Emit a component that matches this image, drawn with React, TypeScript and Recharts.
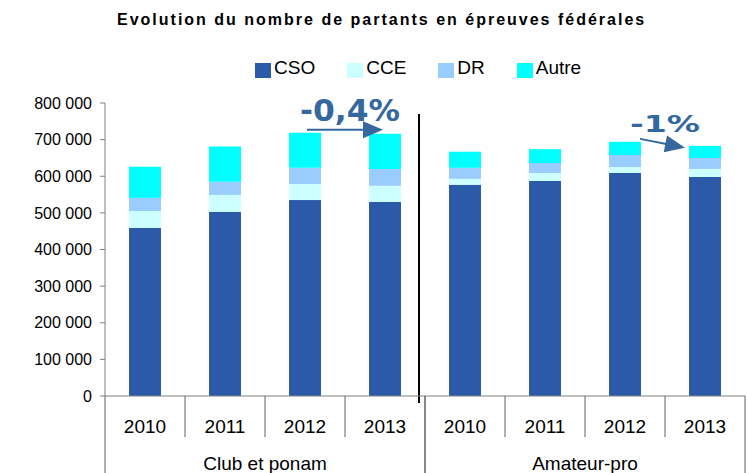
import React from "react";
import { BarChart, Bar, XAxis, YAxis, ReferenceLine } from "recharts";

// categories
const years = ["2010", "2011", "2012", "2013"];
const groups = ["Club et ponam", "Amateur-pro"];

// series values (partants), club 2010..2013 then amateur-pro 2010..2013
const cso = [459000, 503000, 535000, 530000, 577000, 587000, 609000, 598000];
const cce = [46000, 46000, 44000, 44000, 16000, 22000, 16000, 22000];
const dr = [36000, 36000, 44000, 46000, 30000, 27000, 33000, 30000];
const autre = [85000, 96000, 96000, 96000, 44000, 38000, 36000, 33000];

const yTicks = [0, 100000, 200000, 300000, 400000, 500000, 600000, 700000, 800000];

const series = [
  { key: "cso", name: "CSO", values: cso, color: "#2B5BA8" },
  { key: "cce", name: "CCE", values: cce, color: "#CCFFFF" },
  { key: "dr", name: "DR", values: dr, color: "#99CCFF" },
  { key: "autre", name: "Autre", values: autre, color: "#00FFFF" },
];

// evolution 2012 -> 2013 annotations (anchor values in data units)
const annotations = [
  { group: "Club et ponam", from: "2012", to: "2013", fromY: 727000, toY: 727000, label: "-0,4%" },
  { group: "Amateur-pro", from: "2012", to: "2013", fromY: 702000, toY: 678000, label: "-1%" },
];

const catKey = (g: string, y: string) => `${g}|${y}`;

const data = groups.flatMap((g, gi) =>
  years.map((y, yi) => {
    const i = gi * years.length + yi;
    const row: Record<string, string | number> = { cat: catKey(g, y), group: g, year: y };
    series.forEach((s) => (row[s.key] = s.values[i]));
    return row;
  })
);

const W = 747;
const H = 473;
const MARGIN = { top: 103, right: 2, left: 0, bottom: 0 };
const Y_W = 105;
const X_H = 77;
const BAND = (W - MARGIN.right - Y_W) / data.length;
const FONT = "'Liberation Sans', Arial, sans-serif";
const ANNOT = "#34689E";
const GRID = "#606060";

const fmt = (v: number) => String(v).replace(/\B(?=(\d{3})+(?!\d))/g, " ");

function CategoryTick(props: any) {
  const { x, y, payload, index } = props;
  const row = data[index];
  const yi = years.indexOf(String(row?.year ?? payload.value.split("|")[1]));
  const lastOfGroup = yi === years.length - 1;
  return (
    <g>
      {yi === 0 && (
        <line x1={x - BAND / 2} x2={x - BAND / 2} y1={y} y2={H} stroke={GRID} />
      )}
      <line
        x1={x + BAND / 2}
        x2={x + BAND / 2}
        y1={y}
        y2={lastOfGroup ? H : y + 41}
        stroke={GRID}
      />
      <text x={x} y={y + 37} textAnchor="middle" fontSize={19} fontFamily={FONT} fill="#000">
        {row.year}
      </text>
      {yi === 1 && (
        <text x={x + BAND / 2} y={y + 74} textAnchor="middle" fontSize={19} fontFamily={FONT} fill="#000">
          {row.group}
        </text>
      )}
    </g>
  );
}

const arrowLayout = [
  { startInset: 2, endInset: 2, textDx: 45, textDy: -9, textLen: 100, fontSize: 31 },
  { startInset: 15, endInset: 20, textDx: 40, textDy: -7, textLen: 70, fontSize: 23 },
];

function makeArrow(i: number, label: string) {
  const L = arrowLayout[i];
  return (p: any) => {
    const sx = p.x1 + L.startInset;
    const ex = p.x2 - L.endInset;
    const sy = p.y1;
    const ey = p.y2;
    const ang = Math.atan2(ey - sy, ex - sx);
    const head = 20;
    const half = 8.5;
    const bx = ex - head * Math.cos(ang);
    const by = ey - head * Math.sin(ang);
    const px = -Math.sin(ang) * half;
    const py = Math.cos(ang) * half;
    return (
      <g>
        <line x1={sx} y1={sy} x2={bx + Math.cos(ang)} y2={by + Math.sin(ang)} stroke={ANNOT} strokeWidth={2} />
        <polygon points={`${ex},${ey} ${bx + px},${by + py} ${bx - px},${by - py}`} fill={ANNOT} />
        <text
          x={p.x1 + L.textDx}
          y={sy + L.textDy}
          textAnchor="middle"
          fontFamily="'DejaVu Sans', Verdana, sans-serif"
          fontWeight="bold"
          fontSize={L.fontSize}
          textLength={L.textLen}
          lengthAdjust="spacingAndGlyphs"
          fill={ANNOT}
        >
          {label}
        </text>
      </g>
    );
  };
}

function Separator(p: any) {
  const x = p.x1 + BAND / 2 - 6;
  return <line x1={x} x2={x} y1={p.y1} y2={p.y2 + 7} stroke="#000" strokeWidth={2} />;
}

export default function App() {
  return (
    <div style={{ position: "absolute", left: 0, top: 0, width: W, height: H, background: "#fff", fontFamily: FONT }}>
      <div
        style={{
          position: "absolute",
          left: 117,
          top: 10,
          fontSize: 16,
          fontWeight: "bold",
          letterSpacing: 2,
          whiteSpace: "nowrap",
          lineHeight: "20px",
          color: "#000",
        }}
      >
        Evolution du nombre de partants en épreuves fédérales
      </div>
      <div
        style={{
          position: "absolute",
          left: 255,
          top: 56,
          display: "flex",
          gap: 32,
          fontSize: 19,
          lineHeight: "24px",
          whiteSpace: "nowrap",
          color: "#000",
        }}
      >
        {series.map((s) => (
          <div key={s.key} style={{ display: "flex", alignItems: "center" }}>
            <span style={{ display: "inline-block", width: 16, height: 15, background: s.color, marginRight: 3, marginTop: 4 }} />
            <span>{s.name}</span>
          </div>
        ))}
      </div>
      <BarChart width={W} height={H} data={data} margin={MARGIN} barCategoryGap="30%">
        <XAxis
          dataKey="cat"
          height={X_H}
          interval={0}
          tickLine={false}
          tickSize={0}
          tickMargin={0}
          axisLine={{ stroke: "#808080" }}
          tick={<CategoryTick />}
        />
        <YAxis
          width={Y_W}
          domain={[0, 800000]}
          ticks={yTicks}
          interval={0}
          tickSize={5}
          tickMargin={8}
          tickFormatter={fmt}
          axisLine={{ stroke: "#808080" }}
          tickLine={{ stroke: "#808080" }}
          tick={{ fill: "#000", fontSize: 16, fontFamily: FONT }}
        />
        {series.map((s) => (
          <Bar key={s.key} dataKey={s.key} name={s.name} stackId="a" fill={s.color} isAnimationActive={false} />
        ))}
        <ReferenceLine
          segment={[
            { x: catKey(groups[0], years[years.length - 1]), y: 770000 },
            { x: catKey(groups[0], years[years.length - 1]), y: 0 },
          ]}
          ifOverflow="visible"
          shape={Separator}
        />
        {annotations.map((a, i) => (
          <ReferenceLine
            key={a.label}
            segment={[
              { x: catKey(a.group, a.from), y: a.fromY },
              { x: catKey(a.group, a.to), y: a.toY },
            ]}
            ifOverflow="visible"
            shape={makeArrow(i, a.label)}
          />
        ))}
      </BarChart>
    </div>
  );
}
